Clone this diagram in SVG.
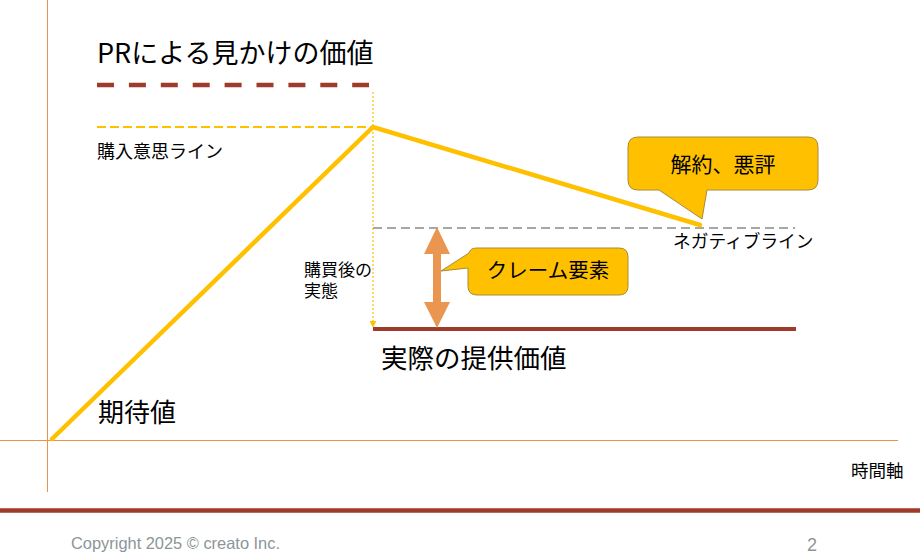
<svg xmlns="http://www.w3.org/2000/svg" width="920" height="558" viewBox="0 0 920 558">
  <defs>
    <style>
      .t { font-family: "Noto Sans CJK JP", "Noto Sans", sans-serif; fill: #000; }
      .axis { stroke: #E9924A; stroke-width: 1; fill: none; }
      .curve { stroke: #FFC000; stroke-width: 4.5; fill: none; stroke-linejoin: miter; stroke-linecap: round; }
      .callout { fill: #FFC000; stroke: #A88A3A; stroke-width: 1; }
      .foot { font-family: "Liberation Sans", Arial, sans-serif; fill: #8C9598; }
    </style>
    <marker id="smallArrow" viewBox="0 0 10 10" refX="9" refY="5" markerWidth="7" markerHeight="7" markerUnits="userSpaceOnUse" orient="auto">
      <path d="M0,0 L10,5 L0,10 Z" fill="#FFC000"/>
    </marker>
  </defs>
  <rect width="920" height="558" fill="#FFFFFF"/>

  <g id="axes">
    <line class="axis" x1="47.5" y1="0" x2="47.5" y2="492"/>
    <line class="axis" x1="0" y1="440.5" x2="898" y2="440.5"/>
  </g>

  <g id="connectors">
    <line x1="97" y1="85" x2="369" y2="85" stroke="#9E3B2B" stroke-width="4.5" stroke-dasharray="17 14.9"/>
    <line x1="97" y1="127" x2="373" y2="127" stroke="#FFC000" stroke-width="1.8" stroke-dasharray="9 4"/>
    <line x1="373" y1="92" x2="373" y2="327" stroke="#FFC000" stroke-width="1.2" stroke-dasharray="2 2" marker-end="url(#smallArrow)"/>
    <line x1="373" y1="228" x2="795" y2="228" stroke="#A6A6A6" stroke-width="2" stroke-dasharray="9 5"/>
    <line x1="373" y1="329" x2="796" y2="329" stroke="#9E3B2B" stroke-width="4"/>
    <polyline class="curve" points="52,439 373,127 700,225"/>
    <path d="M437,227 L450,254 L441,254 L441,302 L450,302 L437,328 L424,302 L433,302 L433,254 L424,254 Z" fill="#EA9650"/>
  </g>

  <g id="node-pr">
    <text class="t" x="97" y="63" font-size="27">PRによる見かけの価値</text>
  </g>
  <g id="node-intent">
    <text class="t" x="97" y="158" font-size="18">購入意思ライン</text>
  </g>
  <g id="node-after">
    <text class="t" x="304" y="276" font-size="17"><tspan x="304" y="276">購買後の</tspan><tspan x="304" y="297">実態</tspan></text>
  </g>
  <g id="node-negative">
    <text class="t" x="673" y="248" font-size="17.7">ネガティブライン</text>
  </g>
  <g id="node-actual">
    <text class="t" x="381" y="368" font-size="26.5">実際の提供価値</text>
  </g>
  <g id="node-expect">
    <text class="t" x="98" y="422" font-size="26">期待値</text>
  </g>
  <g id="node-time">
    <text class="t" x="851" y="477" font-size="17.5">時間軸</text>
  </g>

  <g id="callout-cancel">
    <path class="callout" d="M638,137 L808,137 Q818,137 818,147 L818,180 Q818,190 808,190 L707,190 L702,219 L659,190 L638,190 Q628,190 628,180 L628,147 Q628,137 638,137 Z"/>
    <text class="t" x="723" y="172" font-size="21" text-anchor="middle">解約、悪評</text>
  </g>

  <g id="callout-claim">
    <path class="callout" d="M477,248 L619,248 Q628,248 628,257 L628,286 Q628,295 619,295 L477,295 Q468,295 468,286 L468,268 L441,271 L469,253 Q470,248 477,248 Z"/>
    <text class="t" x="548" y="278" font-size="20.5" text-anchor="middle">クレーム要素</text>
  </g>

  <g id="footer">
    <line x1="0" y1="510.5" x2="920" y2="510.5" stroke="#A0392A" stroke-width="4.5"/>
    <text class="foot" x="71" y="549" font-size="16.5" textLength="209" lengthAdjust="spacingAndGlyphs">Copyright 2025 © creato Inc.</text>
    <text class="foot" x="807" y="551" font-size="18">2</text>
  </g>
</svg>
